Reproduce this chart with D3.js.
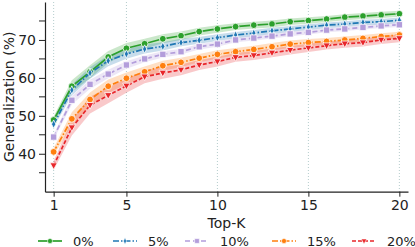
<!DOCTYPE html>
<html>
<head>
<meta charset="utf-8">
<script src="https://cdn.jsdelivr.net/npm/d3@7"></script>
<style>
  body { margin: 0; background: #fff; }
  svg { display: block; font-family: "DejaVu Sans", sans-serif; }
</style>
</head>
<body>
<svg></svg>
<script>
const topK = d3.range(1, 21);
const labels = ["0%", "5%", "10%", "15%", "20%"];
const colors = ["#2ca02c", "#1f77b4", "#b39ddb", "#ff7f0e", "#e8262a"];
const dashes = [null, "6,2,1.5,2", "5,3", "6,2,1.5,2", "4,2"];
const shapes = [d3.symbolCircle, "thin", d3.symbolSquare, d3.symbolCircle, "tri"];

const acc0 = [48.9, 57.8, 61.6, 65.5, 67.8, 69.0, 70.3, 71.1, 72.2, 72.9, 73.5, 73.9, 74.2, 74.8, 75.1, 75.5, 76.0, 76.3, 76.6, 76.9];
const acc5 = [47.8, 56.8, 61.3, 64.5, 66.3, 67.6, 68.3, 69.3, 69.9, 70.6, 71.3, 71.8, 72.4, 72.9, 73.4, 73.9, 74.2, 74.6, 74.8, 75.2];
const acc10 = [44.4, 54.1, 58.3, 61.0, 63.4, 65.0, 66.2, 66.9, 68.2, 68.9, 70.0, 70.5, 71.0, 71.6, 72.0, 72.6, 72.9, 73.3, 73.7, 74.0];
const acc15 = [40.5, 49.2, 54.3, 57.8, 59.9, 61.6, 63.2, 64.1, 65.2, 66.2, 66.9, 67.5, 68.2, 68.9, 69.3, 69.6, 70.0, 70.4, 70.9, 71.3];
const acc20 = [36.9, 46.9, 52.8, 55.4, 57.9, 60.3, 61.3, 62.1, 63.4, 64.3, 65.4, 65.9, 66.6, 67.3, 67.9, 68.5, 69.0, 69.3, 70.0, 70.4];
const series = [acc0, acc5, acc10, acc15, acc20];

// half-width of the shaded band, shared shape over K and a factor per series
const spreadByK = [0.9, 1.6, 1.7, 1.6, 1.4, 1.3, 1.2, 1.1, 1.0, 1.0, 0.9, 0.9, 0.9, 0.85, 0.85, 0.8, 0.8, 0.8, 0.8, 0.8];
const spreadFactor = [1.0, 0.9, 0.7, 1.1, 1.3];

const xTicks = [1, 5, 10, 15, 20];
const yTicks = [40, 50, 60, 70];
const yMinor = [35, 45, 55, 65, 75];

const W = 415, H = 247;
const mLeft = 45, mRight = 408, mTop = 2, mBottom = 191.7;

const svg = d3.select("svg").attr("width", W).attr("height", H);

const x = d3.scaleLinear().domain([0.525, 20.475]).range([mLeft, mRight]);
const y = d3.scaleLinear().domain([30, 80]).range([mBottom, mTop]);

// dotted vertical grid
svg.append("g")
  .selectAll("line")
  .data(xTicks)
  .enter()
  .append("line")
  .attr("x1", d => x(d)).attr("x2", d => x(d))
  .attr("y1", mTop).attr("y2", mBottom)
  .attr("stroke", "#b4cccc")
  .attr("stroke-width", 1)
  .attr("stroke-dasharray", "1,2");

const area = d3.area()
  .x((d, i) => x(topK[i]))
  .y0(d => y(d[0]))
  .y1(d => y(d[1]));

const line = d3.line()
  .x((d, i) => x(topK[i]))
  .y(d => y(d));

function marker(sel, s) {
  if (shapes[s] === "thin") {
    sel.attr("d", "M0,-4.2L2.1,0L0,4.2L-2.1,0Z");
  } else if (shapes[s] === "tri") {
    sel.attr("d", "M-3.7,-2.7L3.7,-2.7L0,3.9Z");
  } else {
    sel.attr("d", d3.symbol().type(shapes[s]).size(shapes[s] === d3.symbolSquare ? 40 : 36)());
  }
}

series.forEach((vals, s) => {
  const band = vals.map((v, i) => [v - spreadByK[i] * spreadFactor[s], v + spreadByK[i] * spreadFactor[s]]);
  svg.append("path")
    .attr("d", area(band))
    .attr("fill", colors[s])
    .attr("fill-opacity", 0.25)
    .attr("stroke", "none");
});

series.forEach((vals, s) => {
  svg.append("path")
    .attr("d", line(vals))
    .attr("fill", "none")
    .attr("stroke", colors[s])
    .attr("stroke-width", 1.7)
    .attr("stroke-dasharray", dashes[s]);

  svg.append("g")
    .selectAll("path")
    .data(vals)
    .enter()
    .append("path")
    .call(marker, s)
    .attr("transform", (d, i) => `translate(${x(topK[i])},${y(d)})`)
    .attr("fill", colors[s])
    .attr("stroke", "#fff")
    .attr("stroke-width", 0.8);
});

// axes
const xAxis = svg.append("g")
  .attr("transform", `translate(0,${mBottom})`)
  .call(d3.axisBottom(x).tickValues(xTicks).tickSize(5).tickPadding(3).tickSizeOuter(0));
const yAxis = svg.append("g")
  .attr("transform", `translate(${mLeft},0)`)
  .call(d3.axisLeft(y).tickValues(yTicks).tickSize(6).tickPadding(3).tickSizeOuter(0));
yAxis.selectAll(".minor")
  .data(yMinor)
  .enter()
  .append("line")
  .attr("class", "minor")
  .attr("x1", -6).attr("x2", 0)
  .attr("y1", d => y(d)).attr("y2", d => y(d))
  .attr("stroke", "#222");

[xAxis, yAxis].forEach(a => {
  a.select(".domain").attr("stroke", "#222").attr("stroke-width", 1.2);
  a.selectAll(".tick line").attr("stroke", "#222");
  a.selectAll("text").attr("fill", "#222").style("font-size", "14px").style("font-family", "DejaVu Sans");
});

svg.append("text")
  .attr("x", (mLeft + mRight) / 2)
  .attr("y", 228)
  .attr("text-anchor", "middle")
  .attr("fill", "#222")
  .style("font-size", "14px")
  .text("Top-K");

svg.append("text")
  .attr("transform", `translate(10,${(mTop + mBottom) / 2}) rotate(-90)`)
  .attr("text-anchor", "middle")
  .attr("dominant-baseline", "middle")
  .attr("fill", "#222")
  .style("font-size", "14px")
  .text("Generalization (%)");

// legend
const legendX = [38, 113, 185, 272, 352];
labels.forEach((lab, s) => {
  const g = svg.append("g").attr("transform", `translate(${legendX[s]},241)`);
  g.append("line")
    .attr("x1", 0).attr("x2", 24)
    .attr("stroke", colors[s])
    .attr("stroke-width", 1.7)
    .attr("stroke-dasharray", dashes[s]);
  g.append("path")
    .call(marker, s)
    .attr("transform", "translate(12,0) scale(0.75)")
    .attr("fill", colors[s])
    .attr("stroke", "#fff")
    .attr("stroke-width", 0.8);
  g.append("text")
    .attr("x", 35)
    .attr("y", 0)
    .attr("dominant-baseline", "central")
    .attr("fill", "#222")
    .style("font-size", "13px")
    .text(lab);
});
</script>
</body>
</html>
